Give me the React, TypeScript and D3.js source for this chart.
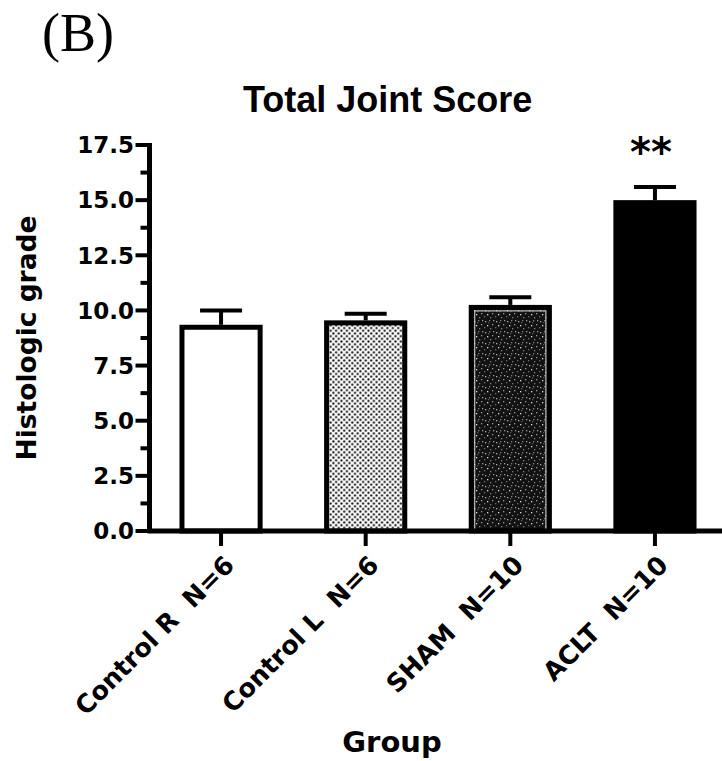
import React, { useEffect, useRef } from 'react';
import * as d3 from 'd3';

const groups = ['Control R  N=6', 'Control L  N=6', 'SHAM  N=10', 'ACLT  N=10'];
const means = [9.35, 9.55, 10.25, 15.0];
const errors = [0.65, 0.3, 0.35, 0.6];
const yTicks = [0, 2.5, 5, 7.5, 10, 12.5, 15, 17.5];
const fills = ['#ffffff', 'url(#dots)', 'url(#speckle)', '#000000'];

const W = 722, H = 761;
const sans = 'DejaVu Sans, sans-serif';

const draw = (node: SVGSVGElement) => {
	const svg = d3.select(node);
	svg.selectAll('*').remove();

	const defs = svg.append('defs');

	// light dotted fill
	const dots = defs.append('pattern').attr('id', 'dots')
		.attr('patternUnits', 'userSpaceOnUse').attr('width', 5.4).attr('height', 5.4);
	dots.append('rect').attr('width', 5.4).attr('height', 5.4).attr('fill', '#fafafa');
	dots.append('circle').attr('cx', 1.3).attr('cy', 1.3).attr('r', 1.1).attr('fill', '#111');
	dots.append('circle').attr('cx', 4.0).attr('cy', 4.0).attr('r', 1.1).attr('fill', '#111');

	// dark speckled fill
	const sp = defs.append('pattern').attr('id', 'speckle')
		.attr('patternUnits', 'userSpaceOnUse').attr('width', 11).attr('height', 11);
	sp.append('rect').attr('width', 11).attr('height', 11).attr('fill', '#121212');
	[[1, 2, 0.7], [5, 1, 0.5], [3, 6, 0.9], [8, 5, 0.6], [6, 9, 0.5], [0, 8, 0.4], [9, 1, 0.6], [4, 3, 0.3]].forEach(([cx, cy, o]) => {
		sp.append('rect').attr('x', cx).attr('y', cy).attr('width', 1.3).attr('height', 1.3)
			.attr('fill', '#eee').attr('opacity', o);
	});

	const y = d3.scaleLinear().domain([0, 17.5]).range([531, 145]);
	const x = d3.scaleBand<string>().domain(groups).range([118, 758])
		.paddingInner(0.425).paddingOuter(0.425);

	const axisX = 149.5;

	// minor + major y ticks
	const minor = d3.range(0, 17.5 + 0.01, 1.25);
	svg.append('g').selectAll('line').data(minor).enter().append('line')
		.attr('x1', d => (yTicks.includes(d) ? axisX - 14 : axisX - 9))
		.attr('x2', axisX)
		.attr('y1', d => y(d)).attr('y2', d => y(d))
		.attr('stroke', '#000').attr('stroke-width', 4);

	svg.append('g').selectAll('text').data(yTicks).enter().append('text')
		.attr('x', 134).attr('y', d => y(d)).attr('dy', '0.36em')
		.attr('text-anchor', 'end')
		.attr('font-family', sans).attr('font-weight', 'bold').attr('font-size', 23)
		.text(d => d.toFixed(1));

	// bars
	const bw = x.bandwidth();
	const bars = svg.append('g');
	bars.selectAll('rect').data(groups).enter().append('rect')
		.attr('x', d => x(d)! + 2.5)
		.attr('y', (d, i) => y(means[i]) + 2.5)
		.attr('width', bw - 5)
		.attr('height', (d, i) => y(0) - y(means[i]) - 2.5)
		.attr('fill', (d, i) => fills[i])
		.attr('stroke', '#000').attr('stroke-width', 5);

	// SHAM thin light inner border
	bars.append('rect')
		.attr('x', x(groups[2])! + 6).attr('y', y(means[2]) + 6)
		.attr('width', bw - 12).attr('height', y(0) - y(means[2]) - 6)
		.attr('fill', 'none').attr('stroke', '#ddd').attr('stroke-width', 1);

	// error bars
	const eb = svg.append('g').attr('stroke', '#000').attr('stroke-width', 4);
	groups.forEach((g, i) => {
		const cx = x(g)! + bw / 2;
		eb.append('line').attr('x1', cx).attr('x2', cx)
			.attr('y1', y(means[i])).attr('y2', y(means[i] + errors[i]));
		eb.append('line').attr('x1', cx - 21).attr('x2', cx + 21)
			.attr('y1', y(means[i] + errors[i])).attr('y2', y(means[i] + errors[i]));
	});

	// axes lines
	svg.append('line').attr('x1', axisX).attr('x2', axisX).attr('y1', 143).attr('y2', 533)
		.attr('stroke', '#000').attr('stroke-width', 5);
	svg.append('line').attr('x1', axisX - 2).attr('x2', W).attr('y1', 531).attr('y2', 531)
		.attr('stroke', '#000').attr('stroke-width', 5);

	// x ticks and labels
	const xt = svg.append('g');
	groups.forEach(g => {
		const cx = x(g)! + bw / 2;
		xt.append('line').attr('x1', cx).attr('x2', cx).attr('y1', 531).attr('y2', 546)
			.attr('stroke', '#000').attr('stroke-width', 4);
		xt.append('text')
			.attr('transform', `translate(${cx + 2},554) rotate(-45)`)
			.attr('text-anchor', 'end').attr('dy', '0.7em')
			.attr('font-family', sans).attr('font-weight', 'bold').attr('font-size', 25.5)
			.attr('xml:space', 'preserve').style('white-space', 'pre')
			.text(g);
	});

	// significance
	svg.append('text').attr('x', x(groups[3])! + bw / 2 - 4).attr('y', 166)
		.attr('text-anchor', 'middle')
		.attr('font-family', sans).attr('font-weight', 'bold').attr('font-size', 40)
		.text('**');

	// titles
	svg.append('text').attr('x', 42).attr('y', 51)
		.attr('font-family', 'Liberation Serif, serif').attr('font-size', 54)
		.text('(B)');
	svg.append('text').attr('x', 243).attr('y', 112)
		.attr('font-family', 'Liberation Sans, Arial, sans-serif').attr('font-weight', 'bold').attr('font-size', 36)
		.text('Total Joint Score');
	svg.append('text').attr('transform', 'translate(36,338) rotate(-90)')
		.attr('text-anchor', 'middle')
		.attr('font-family', sans).attr('font-weight', 'bold').attr('font-size', 26.5)
		.text('Histologic grade');
	svg.append('text').attr('x', 392).attr('y', 752)
		.attr('text-anchor', 'middle')
		.attr('font-family', sans).attr('font-weight', 'bold').attr('font-size', 29)
		.text('Group');
};

export default function App() {
	const ref = useRef<SVGSVGElement>(null);
	useEffect(() => {
		if (ref.current) draw(ref.current);
	}, []);
	return (
		<svg ref={ref} width={W} height={H}
			style={{ position: 'absolute', left: 0, top: 0, background: '#fff' }} />
	);
}
